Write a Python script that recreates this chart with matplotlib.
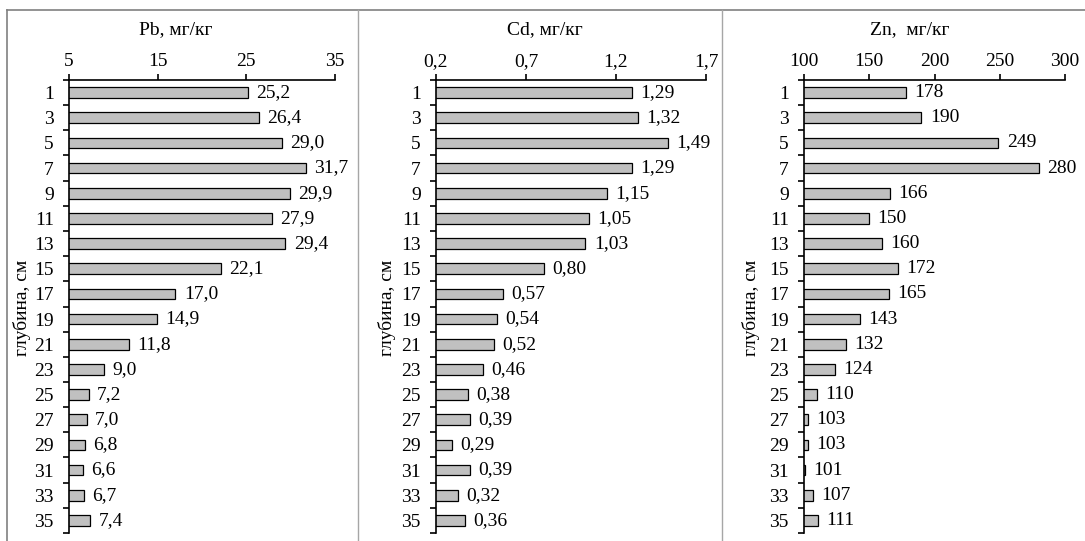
import numpy as np
import matplotlib
matplotlib.use("Agg")
import matplotlib.pyplot as plt
from matplotlib.lines import Line2D
from matplotlib.ticker import FixedLocator

plt.rcParams['font.family'] = ['Liberation Serif', 'DejaVu Serif']

depths = [1, 3, 5, 7, 9, 11, 13, 15, 17, 19, 21, 23, 25, 27, 29, 31, 33, 35]
pb = [25.2, 26.4, 29.0, 31.7, 29.9, 27.9, 29.4, 22.1, 17.0, 14.9, 11.8, 9.0,
      7.2, 7.0, 6.8, 6.6, 6.7, 7.4]
cd = [1.29, 1.32, 1.49, 1.29, 1.15, 1.05, 1.03, 0.80, 0.57, 0.54, 0.52, 0.46,
      0.38, 0.39, 0.29, 0.39, 0.32, 0.36]
zn = [178, 190, 249, 280, 166, 150, 160, 172, 165, 143, 132, 124,
      110, 103, 103, 101, 107, 111]

pb_ticks = [5, 15, 25, 35]
cd_ticks = [0.2, 0.7, 1.2, 1.7]
zn_ticks = [100, 150, 200, 250, 300]

W, H = 1085, 541
fig = plt.figure(figsize=(W / 100, H / 100), dpi=100)

FS = 14
top, bot = 80, 533

panels = [
    ("Pb, мг/кг", pb, pb_ticks, "{:.1f}", "{:g}", 69, 335, 176, 22),
    ("Cd, мг/кг", cd, cd_ticks, "{:.2f}", "{:.1f}", 436, 706, 545, 387),
    ("Zn,  мг/кг", zn, zn_ticks, "{:.0f}", "{:g}", 804, 1065, 910, 751),
]

pos = np.arange(len(depths))
for title, vals, ticks, vfmt, tfmt, x0, x1, tx, lx in panels:
    ax = fig.add_axes([x0 / W, 1 - bot / H, (x1 - x0) / W, (bot - top) / H])
    bars = ax.barh(pos, vals, height=0.42, color='#c0c0c0',
                   edgecolor='black', linewidth=0.9)
    ax.bar_label(bars, labels=[vfmt.format(v).replace('.', ',') for v in vals],
                 padding=6, fontsize=FS)
    ax.set_xlim(ticks[0], ticks[-1])
    ax.set_ylim(len(depths) - 0.5, -0.5)
    ax.xaxis.tick_top()
    ax.set_xticks(ticks)
    ax.set_xticklabels([tfmt.format(t).replace('.', ',') for t in ticks], fontsize=FS)
    ax.tick_params(axis='x', direction='out', length=4, width=1.2, pad=3)
    ax.set_yticks(pos)
    ax.set_yticklabels([str(d) for d in depths], fontsize=FS, va='center_baseline')
    ax.tick_params(axis='y', which='major', length=0, pad=11)
    ax.yaxis.set_minor_locator(FixedLocator(np.arange(-0.5, len(depths), 1)))
    ax.tick_params(axis='y', which='minor', direction='out', length=4, width=1.2)
    for s in ['right', 'bottom']:
        ax.spines[s].set_visible(False)
    for s in ['left', 'top']:
        ax.spines[s].set_linewidth(1.2)
    ax.patch.set_alpha(0)
    fig.text(tx / W, 1 - 30 / H, title, ha='center', va='center', fontsize=FS)
    fig.text(lx / W, 1 - 308 / H, "глубина, см", rotation=90,
             ha='center', va='center', fontsize=FS)

# panel frames
fig.add_artist(Line2D([7 / W, 1], [1 - 10 / H, 1 - 10 / H], color='#808080', lw=1.2))
fig.add_artist(Line2D([7 / W, 7 / W], [0, 1 - 10 / H], color='#808080', lw=1.2))
for xs in [358, 722]:
    fig.add_artist(Line2D([xs / W, xs / W], [0, 1 - 10 / H], color='#a6a6a6', lw=1.0))

fig.savefig("out.png", dpi=100)
